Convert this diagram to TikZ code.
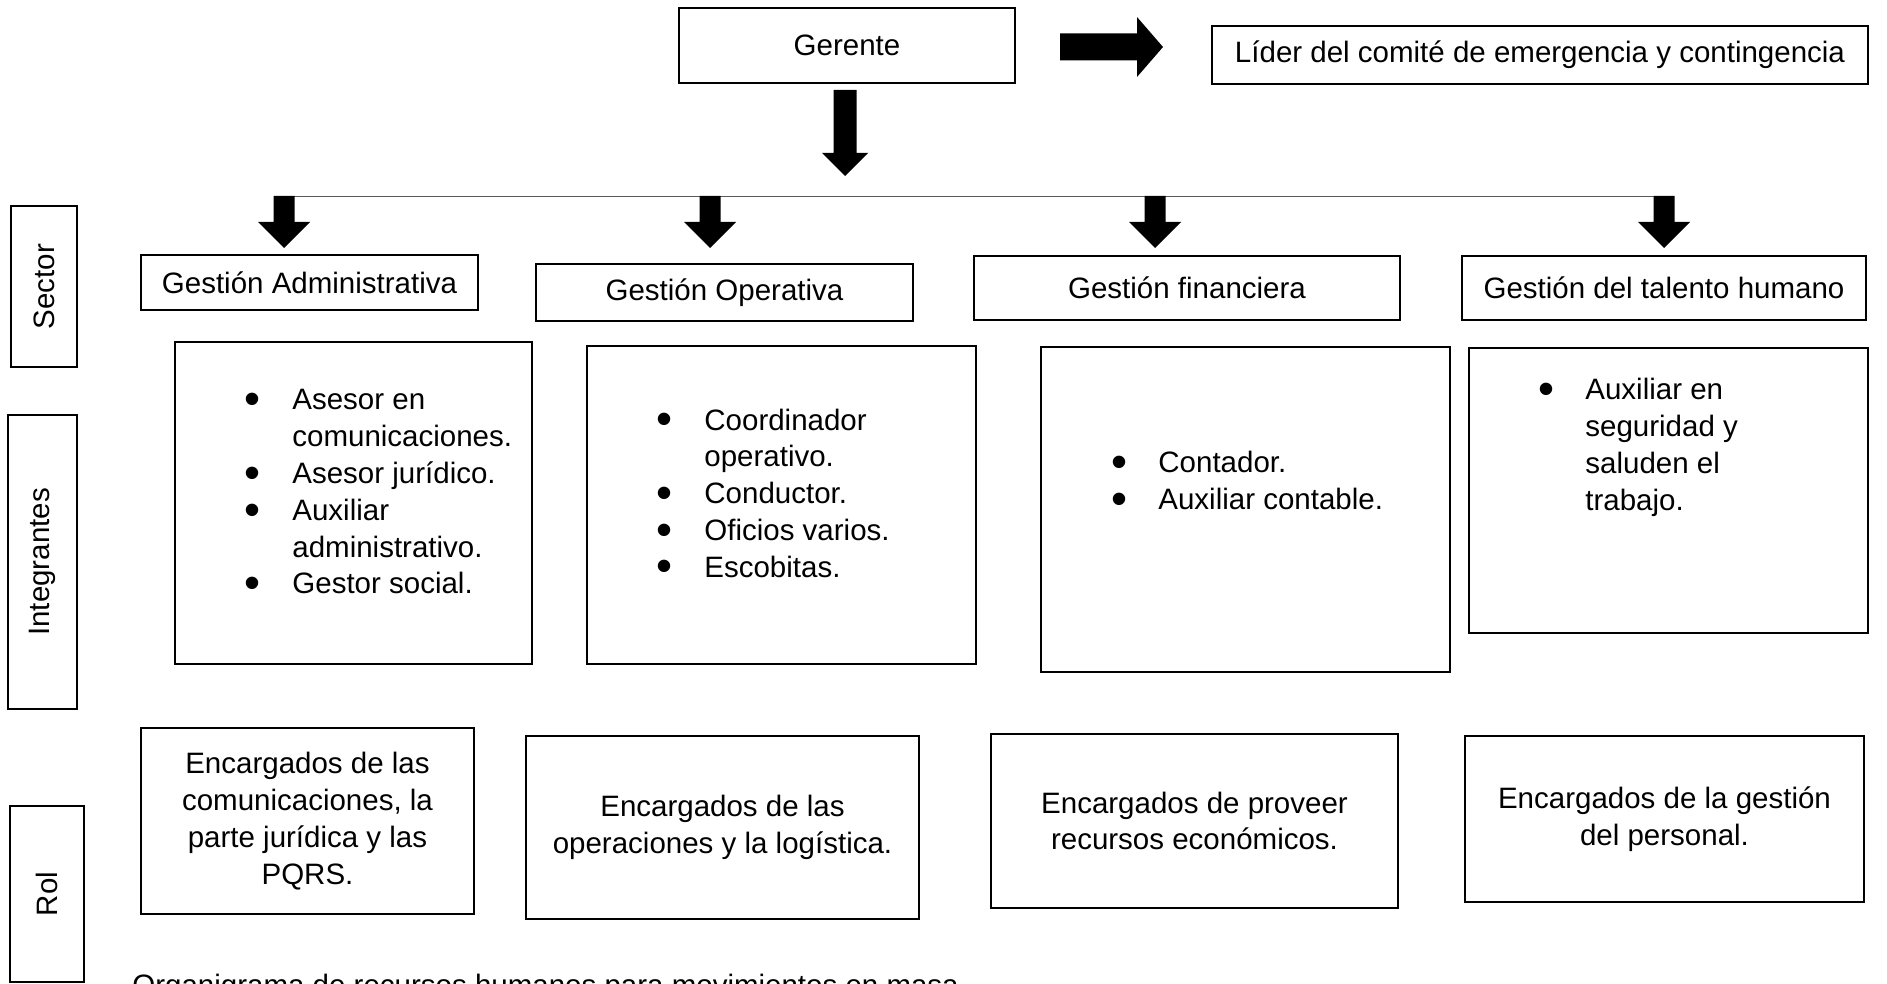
\documentclass[tikz,border=0pt]{standalone}
\usepackage{graphicx}
\usepackage{fontspec}
\setmainfont{Liberation Sans}
\newcommand\bigbul{\smash{\raisebox{-0.16em}{\scalebox{1.55}{\textbullet}}}}
\begin{document}
\begin{tikzpicture}[x=0.5pt,y=-0.5pt,
  txt/.style={font=\fontsize{14.75}{18.4}\selectfont, inner sep=0pt},
  box/.style={draw=black, line width=1pt, inner sep=0pt, txt, align=center},
  bus/.style={draw=black!65, line width=0.8pt},
  downarr/.pic={\fill[black] (-10.5,0) -- (10.5,0) -- (10.5,26) -- (26,26) -- (0,52) -- (-26,26) -- (-10.5,26) -- cycle;},
  gerdown/.pic={\fill[black] (-11.5,0) -- (11.5,0) -- (11.5,63) -- (23,63) -- (0,86) -- (-23,63) -- (-11.5,63) -- cycle;},
  rightarr/.pic={\fill[black] (0,-13.5) -- (77,-13.5) -- (77,-30) -- (103,0) -- (77,30) -- (77,13.5) -- (0,13.5) -- cycle;}
]
\useasboundingbox (0,0) rectangle (1887,984);

% top
\node[box, minimum width=168pt, minimum height=37.5pt] (ger) at (847,45.5) {Gerente};
\node[box, minimum width=328pt, minimum height=29pt] (lider) at (1540,55) {L\'{\i}der del comit\'e de emergencia y contingencia};
\pic at (1060,47) {rightarr};
\pic at (845,90) {gerdown};

% bus line
\coordinate (busL) at (275,196.5);
\coordinate (busR) at (1664,196.5);
\draw[bus] (busL) -- (busR);
\pic at (284,196) {downarr};
\pic at (710,196) {downarr};
\pic at (1155,196) {downarr};
\pic at (1664,196) {downarr};

% side labels
\node[box, minimum width=33pt, minimum height=80.5pt] (sector) at (44,286.5) {};
\node[txt, rotate=90] at (sector.center) {Sector};
\node[box, minimum width=34.5pt, minimum height=147pt] (integ) at (42.5,562) {};
\node[txt, rotate=90] at (integ.center) {Integrantes};
\node[box, minimum width=37pt, minimum height=88pt] (rol) at (47,894) {};
\node[txt, rotate=90] at (rol.center) {Rol};

% sector boxes
\node[box, minimum width=168.5pt, minimum height=27.5pt] (ga) at (309.5,282.5) {Gesti\'on Administrativa};
\node[box, minimum width=188.5pt, minimum height=28.5pt] (go) at (724.5,292.5) {Gesti\'on Operativa};
\node[box, minimum width=213pt, minimum height=32pt] (gf) at (1187,288) {Gesti\'on financiera};
\node[box, minimum width=202pt, minimum height=32pt] (gt) at (1664,288) {Gesti\'on del talento humano};

% integrantes boxes
\node[box, minimum width=178.5pt, minimum height=161pt] (i1) at (353.5,503) {};
\node[box, minimum width=194.5pt, minimum height=159pt] (i2) at (781.5,505) {};
\node[box, minimum width=204.5pt, minimum height=162.5pt] (i3) at (1245.5,509.5) {};
\node[box, minimum width=199.5pt, minimum height=142.5pt] (i4) at (1668.5,490.5) {};

\node[txt, anchor=base west] (l1) at (244,410) {\begin{tabular}[t]{@{}p{24pt}@{}l@{}}
\bigbul & Asesor en\\ & comunicaciones.\\ \bigbul & Asesor jur\'{\i}dico.\\ \bigbul & Auxiliar\\ & administrativo.\\ \bigbul & Gestor social.\end{tabular}};
\node[txt, anchor=base west] (l2) at (656,430) {\begin{tabular}[t]{@{}p{24pt}@{}l@{}}
\bigbul & Coordinador\\ & operativo.\\ \bigbul & Conductor.\\ \bigbul & Oficios varios.\\ \bigbul & Escobitas.\end{tabular}};
\node[txt, anchor=base west] (l3) at (1111,473) {\begin{tabular}[t]{@{}p{23.5pt}@{}l@{}}
\bigbul & Contador.\\ \bigbul & Auxiliar contable.\end{tabular}};
\node[txt, anchor=base west] (l4) at (1538,400) {\begin{tabular}[t]{@{}p{23.5pt}@{}l@{}}
\bigbul & Auxiliar en\\ & seguridad y\\ & saluden el\\ & trabajo.\end{tabular}};

% rol boxes
\node[box, minimum width=166.5pt, minimum height=93pt] (r1) at (307.5,821) {Encargados de las\\comunicaciones, la\\parte jur\'{\i}dica y las\\PQRS.};
\node[box, minimum width=196.5pt, minimum height=91.5pt] (r2) at (722.5,827.5) {Encargados de las\\operaciones y la log\'{\i}stica.};
\node[box, minimum width=203.5pt, minimum height=87pt] (r3) at (1194.5,821) {Encargados de proveer\\recursos econ\'omicos.};
\node[box, minimum width=199.5pt, minimum height=83pt] (r4) at (1664.5,819) {Encargados de la gesti\'on\\del personal.};

% caption
\node[txt, anchor=north west] (cap) at (132,974) {Organigrama de recursos humanos para movimientos en masa};
\end{tikzpicture}
\end{document}
